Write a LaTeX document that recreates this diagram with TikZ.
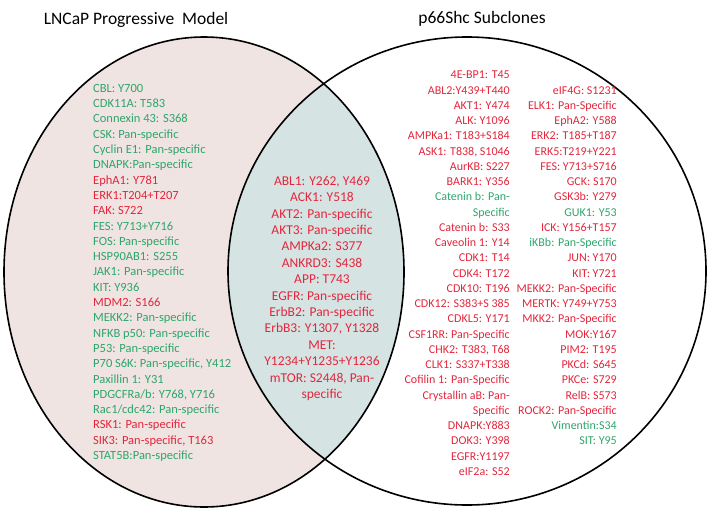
\documentclass[tikz,border=0pt]{standalone}
\usepackage{fontspec}
\setmainfont{Carlito}
\usepackage{tikz}
\usetikzlibrary{positioning}
\definecolor{cred}{HTML}{E3263C}
\definecolor{cgrn}{HTML}{2EA56C}
\definecolor{cleft}{HTML}{EFE4E1}
\definecolor{cmid}{HTML}{D6E3E3}
\newcommand{\rtx}[1]{\textcolor{cred}{#1}}
\newcommand{\gtx}[1]{\textcolor{cgrn}{#1}}
\tikzset{
  setline/.style={draw=black, line width=1.6pt},
  ttl/.style={font=\fontsize{17.5}{20}\selectfont, inner sep=0pt, anchor=base},
  lst/.style={inner sep=0pt, font=\fontsize{12.5}{15.3}\selectfont},
  lstmid/.style={inner sep=0pt, align=center, font=\fontsize{13.5}{16.4}\selectfont},
  lstr/.style={inner sep=0pt, align=right, font=\fontsize{12}{15.25}\selectfont},
}
\begin{document}
\begin{tikzpicture}[x=1pt,y=-1pt]
\useasboundingbox (0,0) rectangle (711,511);
\fill[cleft] (204,272) ellipse [x radius=200pt, y radius=235pt];
\begin{scope}
\clip (204,272) ellipse [x radius=200pt, y radius=235pt];
\fill[cmid] (467,271) ellipse [x radius=239pt, y radius=234pt];
\end{scope}
\draw[setline] (204,272) ellipse [x radius=200pt, y radius=235pt];
\draw[setline] (467,271) ellipse [x radius=239pt, y radius=234pt];
\node[ttl] (lncap) at (136,25) {LNCaP Progressive\ \ Model};
\node[ttl] (p66) at (482,24) {p66Shc Subclones};
\node[lst, align=left, anchor=north west] (leftset) at (93,84) {%
\gtx{CBL: Y700}\\
\gtx{CDK11A: T583}\\
\gtx{Connexin 43: S368}\\
\gtx{CSK: Pan-specific}\\
\gtx{Cyclin E1: Pan-specific}\\
\gtx{DNAPK:Pan-specific}\\
\rtx{EphA1: Y781}\\
\rtx{ERK1:T204+T207}\\
\rtx{FAK: S722}\\
\gtx{FES: Y713+Y716}\\
\gtx{FOS: Pan-specific}\\
\gtx{HSP90AB1: S255}\\
\gtx{JAK1: Pan-specific}\\
\gtx{KIT: Y936}\\
\rtx{MDM2: S166}\\
\gtx{MEKK2: Pan-specific}\\
\gtx{NFKB p50: Pan-specific}\\
\gtx{P53: Pan-specific}\\
\gtx{P70 S6K: Pan-specific, Y412}\\
\gtx{Paxillin 1: Y31}\\
\gtx{PDGCFRa/b: Y768, Y716}\\
\gtx{Rac1/cdc42: Pan-specific}\\
\rtx{RSK1: Pan-specific}\\
\rtx{SIK3: Pan-specific, T163}\\
\gtx{STAT5B:Pan-specific}};
\node[lstmid, anchor=north, text=cred] (shared) at (322,176) {%
ABL1: Y262, Y469\\
ACK1: Y518\\
AKT2: Pan-specific\\
AKT3: Pan-specific\\
AMPKa2: S377\\
ANKRD3: S438\\
APP: T743\\
EGFR: Pan-specific\\
ErbB2: Pan-specific\\
ErbB3: Y1307, Y1328\\
MET:\\
Y1234+Y1235+Y1236\\
mTOR: S2448, Pan-\\
specific};
\node[lstr, anchor=north east] (subA) at (510,71) {%
\rtx{4E-BP1: T45}\\
\rtx{ABL2:Y439+T440}\\
\rtx{AKT1: Y474}\\
\rtx{ALK: Y1096}\\
\rtx{AMPKa1: T183+S184}\\
\rtx{ASK1: T838, S1046}\\
\rtx{AurKB: S227}\\
\rtx{BARK1: Y356}\\
\gtx{Catenin b: Pan-}\\
\gtx{Specific}\\
\rtx{Catenin b: S33}\\
\rtx{Caveolin 1: Y14}\\
\rtx{CDK1: T14}\\
\rtx{CDK4: T172}\\
\rtx{CDK10: T196}\\
\rtx{CDK12: S383+S 385}\\
\rtx{CDKL5: Y171}\\
\rtx{CSF1RR: Pan-Specific}\\
\rtx{CHK2: T383, T68}\\
\rtx{CLK1: S337+T338}\\
\rtx{Cofilin 1: Pan-Specific}\\
\rtx{Crystallin aB: Pan-}\\
\rtx{Specific}\\
\rtx{DNAPK:Y883}\\
\rtx{DOK3: Y398}\\
\rtx{EGFR:Y1197}\\
\rtx{eIF2a: S52}};
\node[lstr, anchor=north east] (subB) at (617,86.25) {%
\rtx{eIF4G: S1231}\\
\rtx{ELK1: Pan-Specific}\\
\rtx{EphA2: Y588}\\
\rtx{ERK2: T185+T187}\\
\rtx{ERK5:T219+Y221}\\
\rtx{FES: Y713+S716}\\
\rtx{GCK: S170}\\
\rtx{GSK3b: Y279}\\
\gtx{GUK1: Y53}\\
\rtx{ICK: Y156+T157}\\
\gtx{iKBb: Pan-Specific}\\
\rtx{JUN: Y170}\\
\rtx{KIT: Y721}\\
\rtx{MEKK2: Pan-Specific}\\
\rtx{MERTK: Y749+Y753}\\
\rtx{MKK2: Pan-Specific}\\
\rtx{MOK:Y167}\\
\rtx{PIM2: T195}\\
\rtx{PKCd: S645}\\
\rtx{PKCe: S729}\\
\rtx{RelB: S573}\\
\rtx{ROCK2: Pan-Specific}\\
\gtx{Vimentin:S34}\\
\gtx{SIT: Y95}};
\end{tikzpicture}
\end{document}
